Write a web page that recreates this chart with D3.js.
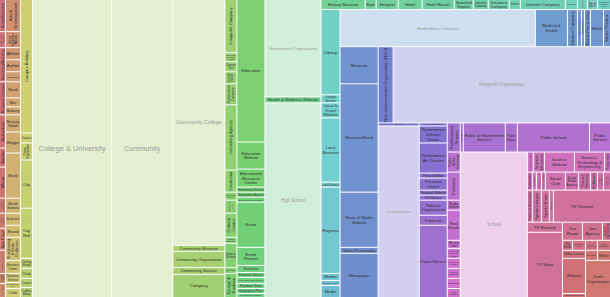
<!DOCTYPE html>
<html>
<head>
<meta charset="utf-8">
<script src="https://cdn.jsdelivr.net/npm/d3@7"></script>
<style>
html,body{margin:0;padding:0;background:#fff;}
svg{display:block;}
</style>
</head>
<body>
<svg id="chart" width="610" height="297"></svg>
<script>
// ---- data (in layout order) ----
const categories = [
"Actor/Director","Advertising Agency","Advertising/Marketing","Aerospace Company","Agriculture","Airport","Album","Amateur Sports Team","Animal Shelter","App Page","Apparel & Clothing","Architectural Designer","Art Gallery",
"Arts & Entertainment","Arts & Humanities Website","Athlete","Author","Automotive","Bank","Bar","Bakery","Beauty Salon","Blogger","Book","Book Series","Bookstore","Brand","Broadcasting & Media Production","Business Center","Business Service","Business/Economy Website","Cafe",
"Campus Building","Cause","Charity Organization","City","City Hall","Clothing (Brand)","Club","Coach","Coffee Shop",
"College & University",
"Community",
"Community College","Community Museum","Community Organization","Community Service","Company",
"Computer Company","Computers & Internet Website","Concert Tour","Concert Venue","Construction Company","Consulting Agency","Contractor","Copywriting Service","Cosmetics Store","Cultural Center","Cultural Gifts Store","Dance School","Day Care","Design & Fashion",
"Education","Education Website","Educational Research Center","Elementary School","Employment Agency","Entertainment Website","Event","Event Planner","Fashion","Financial Service","Food & Beverage Company","Footwear Store","Geographical Place","Government Official",
"Government Organization","Health & Wellness Website","High School",
"History Museum","Home","Hospital","Hotel","Hotel Resort","Household Supplies","Industrial Company","Insurance Company","Interest","Internet Company","Jewelry/Watches","Journalist","Just For Fun","Landmark & Historical Place",
"Library","Lifestyle Service","Local & Travel Website","Local Business","Local Service","Magazine","Market","Marketing Agency","Media",
"Media/News Company","Medical & Health","Medical Company","Medical Service","Mental Health Service","Mobile Phone Shop","Movie","Movie Theater",
"Museum","Musician/Band","News & Media Website","News Personality","Newspaper",
"Non-Governmental Organization (NGO)","Nonprofit Organization",
"Online Store","Organization",
"Outdoor & Sporting Goods","Performance & Event Venue","Performance Art Theatre","Personal Blog","Personal Coach","Personal Website","Pet Service","Political Organization","Politician","Product/Service",
"Professional Service","Psychologist","Public & Government Service","Public Figure","Public School","Public Service",
"Public Utility Company","Publisher","Radio Station","Real Estate","Record Label","Recreation & Sports Website","Reference Website","Religious Organization","Restaurant","Retail Company",
"School",
"School Sports Team","Science Museum","Science Website","Science, Technology & Engineering","Scientist",
"Screenwriter","Sculptor","Shopping & Retail","Shopping Mall","Social Club","Social Media Agency","Social Service","Software","Software Company","Specialty School",
"Sports & Recreation","Sports League","Sports Team","Stadium","TV Channel",
"TV Network","TV Show",
"Tea Room","Tour Agency","Tours & Sightseeing",
"Toy Store","Transportation Service","Travel & Transportation","Travel Company",
"Video Creator","Website","Wedding Planning Service",
"Wine/Spirits","Writer",
"Youth Organization"
];
const values = [
192,96,204,198,198,114,186,90,90,132,138,60,84,
480,240,180,180,150,240,135,120,255,315,675,225,180,180,345,195,135,90,135,
1596,120,204,576,600,120,120,108,120,
23463,
18117,
12740,312,832,364,1196,
636,108,120,144,252,780,264,96,156,288,72,288,72,288,
3976,756,504,140,140,140,1260,504,196,140,168,140,140,112,
5432,336,10864,
440,110,220,240,320,190,150,210,110,450,120,100,100,130,
1615,152,285,1216,95,1634,133,95,228,
7215,1184,370,148,111,222,481,259,
1406,4104,2090,228,1672,
1140,16492,
123,7011,
84,476,840,140,336,140,140,420,280,2016,
377,87,1218,348,2088,609,
260,364,130,390,104,130,130,130,130,117,
9715,
120,220,600,600,120,
90,72,90,72,360,234,216,126,108,126,
160,288,256,128,1824,
350,2275,
360,360,144,
100,130,120,130,
184,805,92,
120,130,
925
];
// number of consecutive categories in each strip of the squarified layout
const rowSizes = [13,19,9,1,1,5,14,14,3,14,9,8,5,2,2,10,6,10,1,5,10,5,2,3,4,3,2,1];

// ---- layout ----
const W = 610, H = 297;
const svg = d3.select("#chart");
const FONT = '"Liberation Sans", Arial, sans-serif';

function stripTile(parent, x0, y0, x1, y1) {
  const nodes = parent.children;
  let value = parent.value, i = 0;
  for (const count of rowSizes) {
    const row = {children: nodes.slice(i, i + count)};
    row.value = d3.sum(row.children, d => d.value);
    const dx = x1 - x0, dy = y1 - y0;
    if (dx < dy) d3.treemapDice(row, x0, y0, x1, y0 += dy * row.value / value);
    else d3.treemapSlice(row, x0, y0, x0 += dx * row.value / value, y1);
    value -= row.value; i += count;
  }
}

const root = d3.hierarchy({children: categories.map((name, i) => ({name, value: values[i], index: i}))})
  .sum(d => d.value || 0);

d3.treemap().size([W, H]).tile(stripTile).paddingInner(1).round(false)(root);

const N = categories.length;
const hue = d3.scaleLinear()
  .domain([0, 41, 78, 101, 102, 114, 116, 145, 165, N - 1])
  .range([350, 440, 500, 552, 572, 582, 600, 668, 692, 725]);
const paleThreshold = 5000;
const bigFont = d3.scaleLinear().domain([5000, 11000, 13000, 18000, 24000])
  .range([4.2, 4.5, 5.3, 7.2, 7.5]).clamp(true);

function baseColor(i) { return d3.hsl(hue(i) % 360, 0.5, 0.63); }
function fillColor(d) {
  const c = d3.rgb(baseColor(d.data.index));
  if (d.value > paleThreshold) {
    const a = 0.33;
    return d3.rgb(255 - a * (255 - c.r), 255 - a * (255 - c.g), 255 - a * (255 - c.b)).formatHex();
  }
  return c.formatHex();
}

// text measuring with a hidden svg text at 10px, scaled linearly
const meas = svg.append("text").attr("font-family", FONT).attr("font-size", 10)
  .attr("x", -1000).attr("y", -1000).attr("visibility", "hidden");
const cache = new Map();
function tw(s, fs) {
  let w10 = cache.get(s);
  if (w10 === undefined) { meas.text(s); w10 = meas.node().getComputedTextLength(); cache.set(s, w10); }
  return w10 * fs / 10;
}
function wrap(words, fs, maxW) {
  const lines = []; let cur = "";
  for (const w of words) {
    const t = cur ? cur + " " + w : w;
    if (!cur || tw(t, fs) <= maxW) cur = t; else { lines.push(cur); cur = w; }
  }
  if (cur) lines.push(cur);
  return lines;
}
function tryFit(words, fs, along, across) {
  const lines = wrap(words, fs, along - 1.2);
  if (lines.every(l => tw(l, fs) <= along - 1.2) && lines.length * fs * 1.1 <= across - 0.3) return lines;
  return null;
}
function layoutLabel(name, w, h, fs0) {
  const words = name.split(/\s+/);
  let lines;
  for (let k = 0; fs0 - 0.2 * k >= 3.2 - 1e-6; k++) {
    const fs = fs0 - 0.2 * k;
    if ((lines = tryFit(words, fs, w, h))) return {fs, lines, rot: false};
  }
  if (h > w) for (let k = 0; Math.min(fs0, 4.2) - 0.2 * k >= 3.2 - 1e-6; k++) {
    const fs = Math.min(fs0, 4.2) - 0.2 * k;
    if ((lines = tryFit(words, fs, h, w))) return {fs, lines, rot: true};
  }
  for (let k = 0; k <= 9; k++) {
    const fs = 3.0 - 0.2 * k;
    if (h > w && (lines = tryFit(words, fs, h, w))) return {fs, lines, rot: true};
    if ((lines = tryFit(words, fs, w, h))) return {fs, lines, rot: false};
  }
  return {fs: 1.2, lines: wrap(words, 1.2, Math.max(w, h) - 1), rot: h > w};
}

const leaves = root.leaves();
const defs = svg.append("defs");
defs.selectAll("clipPath").data(leaves).join("clipPath")
  .attr("id", (d, i) => "c" + i)
  .append("rect")
  .attr("x", d => d.x0).attr("y", d => d.y0)
  .attr("width", d => Math.max(0, d.x1 - d.x0)).attr("height", d => Math.max(0, d.y1 - d.y0));

const g = svg.selectAll("g.tile").data(leaves).join("g").attr("class", "tile");
g.append("rect")
  .attr("x", d => d.x0).attr("y", d => d.y0)
  .attr("width", d => Math.max(0, d.x1 - d.x0)).attr("height", d => Math.max(0, d.y1 - d.y0))
  .attr("fill", fillColor);

g.each(function(d, i) {
  const w = d.x1 - d.x0, h = d.y1 - d.y0;
  const pale = d.value > paleThreshold;
  const fs0 = pale ? Math.min(bigFont(d.value), Math.max(4.2, h * 0.06)) : 4.2;
  const L = layoutLabel(d.data.name, w, h, fs0);
  const cx = (d.x0 + d.x1) / 2, cy = (d.y0 + d.y1) / 2;
  const lh = L.fs * 1.1;
  const t = d3.select(this).append("g")
    .attr("clip-path", `url(#c${i})`)
    .append("text")
    .attr("transform", `translate(${cx},${cy})` + (L.rot ? " rotate(-90)" : ""))
    .attr("text-anchor", "middle")
    .attr("font-family", FONT)
    .attr("font-size", L.fs.toFixed(2))
    .attr("fill", pale ? "#9a9a9a" : "#2e2e2e");
  L.lines.forEach((line, k) => {
    t.append("tspan").attr("x", 0)
      .attr("y", ((k - (L.lines.length - 1) / 2) * lh).toFixed(2))
      .attr("dy", "0.35em").text(line);
  });
});
meas.remove();
</script>
</body>
</html>
